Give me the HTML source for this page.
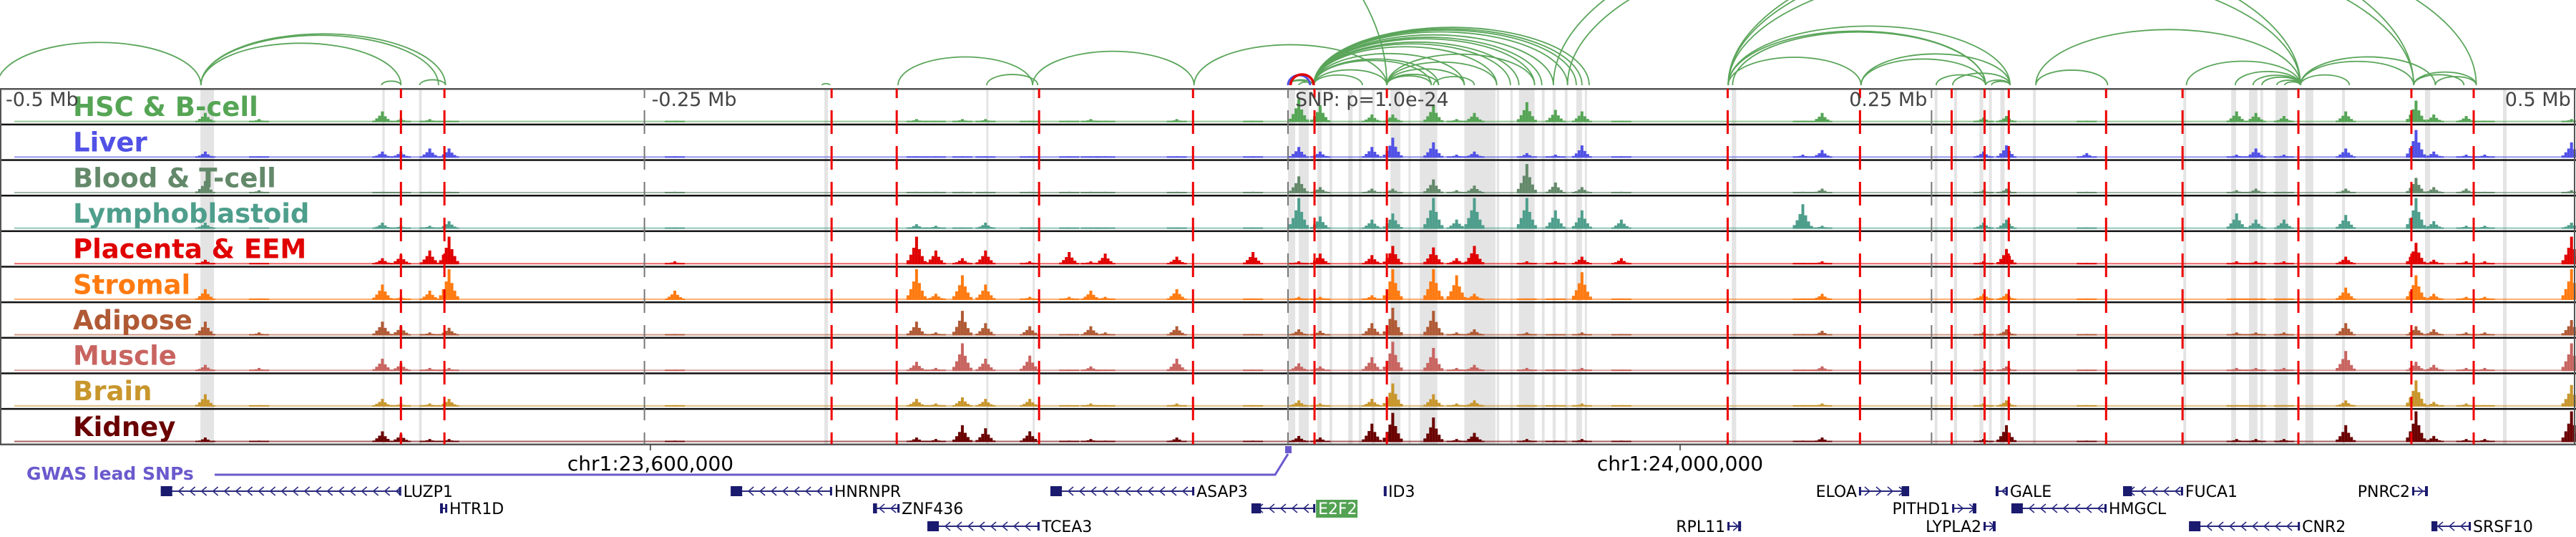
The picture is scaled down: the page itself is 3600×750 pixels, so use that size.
<!DOCTYPE html>
<html><head><meta charset="utf-8"><style>
html,body{margin:0;padding:0;background:#fff;}
svg{display:block;font-family:"DejaVu Sans","Liberation Sans",sans-serif;}
</style></head><body>
<svg id="chart" xmlns="http://www.w3.org/2000/svg" width="3600" height="750" viewBox="0 0 3600 750">
<g id="bands"></g>
<g id="tracks"></g>
<g id="vlines"></g>
<g id="arcs"></g>
<g id="labels"></g>
<g id="genes"></g>
</svg>
<script>
// ---------- data ----------
const trackNames = ["HSC & B-cell","Liver","Blood & T-cell","Lymphoblastoid","Placenta & EEM","Stromal","Adipose","Muscle","Brain","Kidney"];
const trackColors = ["#55a555","#5151e6","#63896a","#4e9e8c","#e00000","#ff7a10","#b05a35","#c86460","#c8962c","#6a0000"];
const peakPos = [-420.6,-399.7,-351.8,-344.6,-333.4,-325.9,-238.2,-144.3,-136.8,-126.5,-117.5,-100.3,-85.0,-76.6,-71.0,-43.2,-13.6,4.2,12.5,32.6,40.7,56.5,65.5,72.4,92.8,103.9,114.2,129.5,200.0,207.5,270.2,279.1,310.3,368.5,376.0,386.9,410.9,438.2,445.1,457.7,464.9,498.6];
const hsc   = [0.3,0.1,0.35,0.12,0.1,0.05,0.05,0.1,0.05,0.1,0.1,0.05,0.05,0.1,0.05,0.1,0.05,0.75,0.55,0.25,0.25,0.55,0.1,0.3,0.65,0.4,0.35,0.05,0.05,0.3,0.15,0.2,0.05,0.35,0.3,0.2,0.35,0.7,0.25,0.2,0.05,0.1];
const liver = [0.2,0.05,0.2,0.2,0.3,0.3,0.05,0.05,0.05,0.05,0.05,0.05,0.05,0.05,0.05,0.05,0.05,0.35,0.2,0.35,0.65,0.5,0.1,0.2,0.15,0.1,0.4,0.05,0.1,0.25,0.2,0.4,0.15,0.1,0.3,0.1,0.3,0.9,0.2,0.1,0.1,0.5];
const blood = [0.4,0.1,0.05,0.05,0.05,0.05,0.05,0.05,0.05,0.05,0.05,0.05,0.05,0.05,0.05,0.05,0.05,0.55,0.2,0.15,0.15,0.45,0.1,0.25,0.95,0.35,0.2,0.05,0.05,0.15,0.1,0.15,0.05,0.1,0.15,0.05,0.15,0.5,0.2,0.15,0.05,0.1];
const lymph = [0.2,0.05,0.2,0.1,0.1,0.25,0.05,0.15,0.1,0.05,0.2,0.05,0.05,0.05,0.05,0.05,0.05,1.0,0.4,0.3,0.5,1.0,0.3,1.0,1.0,0.6,0.6,0.3,0.8,0.1,0.2,0.3,0.05,0.5,0.3,0.3,0.45,1.0,0.25,0.1,0.1,0.2];
const placenta = [0.15,0.05,0.2,0.3,0.45,0.9,0.1,0.9,0.45,0.2,0.45,0.1,0.4,0.1,0.35,0.25,0.4,0.1,0.35,0.3,0.6,0.55,0.2,0.6,0.1,0.1,0.25,0.2,0.05,0.1,0.1,0.5,0.05,0.1,0.1,0.1,0.25,0.7,0.15,0.1,0.1,0.9];
const stromal = [0.35,0.05,0.5,0.1,0.3,1.0,0.3,1.0,0.2,0.8,0.5,0.1,0.1,0.3,0.1,0.35,0.05,0.1,0.1,0.15,1.0,1.0,0.8,0.2,0.05,0.05,0.9,0.05,0.05,0.2,0.2,0.2,0.05,0.05,0.05,0.05,0.4,0.8,0.2,0.1,0.1,1.0];
const adipose = [0.45,0.1,0.45,0.3,0.1,0.25,0.05,0.45,0.1,0.8,0.4,0.3,0.05,0.3,0.1,0.3,0.05,0.2,0.15,0.4,0.9,0.8,0.1,0.2,0.1,0.05,0.1,0.05,0.05,0.15,0.1,0.2,0.05,0.1,0.1,0.1,0.4,0.3,0.2,0.1,0.1,0.5];
const muscle = [0.2,0.1,0.4,0.25,0.1,0.1,0.05,0.3,0.1,0.9,0.4,0.5,0.05,0.15,0.05,0.4,0.05,0.25,0.15,0.45,0.95,0.75,0.1,0.2,0.1,0.05,0.1,0.05,0.05,0.15,0.1,0.15,0.05,0.1,0.1,0.1,0.65,0.3,0.2,0.1,0.1,0.9];
const brain = [0.4,0.05,0.25,0.1,0.1,0.25,0.05,0.25,0.1,0.3,0.25,0.25,0.05,0.1,0.05,0.1,0.05,0.2,0.1,0.25,0.75,0.4,0.1,0.2,0.05,0.05,0.1,0.05,0.05,0.1,0.1,0.2,0.05,0.05,0.05,0.05,0.2,0.85,0.15,0.1,0.05,0.7];
const kidney = [0.15,0.05,0.35,0.25,0.1,0.1,0.05,0.15,0.1,0.55,0.45,0.35,0.05,0.1,0.05,0.15,0.05,0.2,0.15,0.6,0.95,0.8,0.1,0.3,0.1,0.05,0.1,0.05,0.05,0.15,0.1,0.55,0.05,0.1,0.1,0.1,0.55,1.0,0.2,0.1,0.1,1.0];
const trackValues = [hsc,liver,blood,lymph,placenta,stromal,adipose,muscle,brain,kidney];
const redLines = [-344.6,-327.7,-177.3,-152.0,-96.7,-36.9,10.3,38.4,170.8,222.2,257.8,270.6,280.0,317.8,347.5,392.5,436.4,460.6];
const grayTicks = [-250,0,250];
const bandStart = [-422.5,-351.8,-337.6,-180.1,-117.2,-99.2,0,4.2,11.4,16.1,23.4,27.5,32.6,39.8,46.8,51.2,68.5,81.1,86.4,89.7,98.6,102.8,107.5,112.0,115.3,172.4,251.2,258.7,268.6,272.3,276.7,289.4,347.8,366.4,373.3,377.7,383.6,395.2,409.5,441.7,472.0];
const bandEnd   = [-417.2,-350.9,-336.5,-178.7,-116.7,-98.6,2.8,8.1,13.1,17.2,25.1,28.6,33.7,43.7,47.6,58.0,80.6,82.0,87.3,95.8,99.7,104.0,108.6,114.2,116.1,174.1,252.3,259.9,270.1,273.4,278.4,290.5,348.9,368.3,376.6,378.8,388.4,398.3,410.6,443.7,473.4];
const arcStart = [-501.4,-422.3,-422.3,-422.3,-352.1,-337.3,-181.0,-151.5,-117.0,-99.2,-36.5,-650.0,0,0,4.2,10.0,10.0,10.0,10.0,10.0,10.0,10.0,10.0,10.0,10.0,10.0,10.0,10.0,10.0,10.0,38.4,38.4,38.4,38.4,38.4,56.5,103.1,108.6,171.0,171.0,171.0,171.0,171.0,171.0,172.7,222.6,222.6,251.8,258.2,271.0,273.3,290.5,290.5,349.0,368.0,374.9,378.3,384.1,387.2,393.3,393.3,393.3,437.3,437.3,445.7];
const arcEnd   = [-422.3,-344.6,-327.3,-330.0,-344.6,-327.3,-178.0,-99.2,-97.2,-36.5,38.4,38.4,10.0,8.6,10.0,28.9,38.4,55.7,58.5,68.5,81.1,86.4,89.7,95.8,98.6,103.1,108.6,114.2,117.0,112.0,55.7,68.5,81.1,95.8,58.5,72.4,437.3,393.3,222.6,271.0,280.5,393.3,437.3,461.6,271.0,271.0,280.5,271.0,280.5,280.5,280.5,318.4,393.3,393.3,393.3,393.3,393.3,393.3,393.3,412.3,437.3,445.7,461.6,456.8,461.6];
const geneNames  = ["LUZP1","HTR1D","HNRNPR","ZNF436","TCEA3","ASAP3","E2F2","ID3","RPL11","ELOA","PITHD1","LYPLA2","GALE","HMGCL","FUCA1","CNR2","PNRC2","SRSF10"];
const geneStart  = [-437.9,-329.4,-216.5,-161.2,-140.1,-92.3,-14.2,37.2,170.7,221.8,258.0,270.2,274.9,281.0,324.4,350.0,436.7,444.2];
const geneEnd    = [-344.5,-326.6,-177.1,-150.9,-96.5,-36.4,10.6,38.1,176.0,241.3,267.4,274.9,279.6,318.0,347.7,393.1,442.8,459.5];
const geneStrand = ["-","-","-","-","-","-","-","-","+","+","+","+","-","-","-","-","+","-"];
const geneRow    = [0,1,0,1,2,0,1,0,2,0,1,2,0,1,0,2,0,2];
const axisLabels = ["-0.5 Mb","-0.25 Mb","SNP: p=1.0e-24","0.25 Mb","0.5 Mb"];
const axisLabelPos = [-500,-250,0,250,500];

// ---------- scales ----------
const NS="http://www.w3.org/2000/svg";
const X0=1800, PXKB=3.5975;
function xs(kb){return X0+kb*PXKB;}
const TOP=124, TH=49.65, NT=10, BOT=TOP+TH*NT;
function trackTop(i){return TOP+i*TH;}
function mk(tag,attrs,parent){const e=document.createElementNS(NS,tag);for(const k in attrs)e.setAttribute(k,attrs[k]);parent.appendChild(e);return e;}
const gB=document.getElementById('bands'),gT=document.getElementById('tracks'),gV=document.getElementById('vlines'),gA=document.getElementById('arcs'),gL=document.getElementById('labels'),gG=document.getElementById('genes');

bandStart.forEach((s,i)=>{
  const x1=xs(s),x2=xs(bandEnd[i]);
  const r=mk('rect',{x:x1,y:TOP,width:Math.max(3,x2-x1),height:BOT-TOP,fill:'#e4e4e4'},gB);
  
  
});

for(let t=0;t<NT;t++){
  const top=trackTop(t), base=top+TH-3, H=43;
  const g=mk('g',{},gT);
  
  
  mk('rect',{x:20,y:base-2,width:3575,height:2,fill:trackColors[t],opacity:0.6},g);
  const vals=trackValues[t];
  peakPos.forEach((p,i)=>{
    const h=vals[i]*H, cx=xs(p);
    const parts=[[0,1],[-4,0.6],[4,0.55],[-8,0.35],[8,0.3],[-12,0.15],[12,0.12]];
    parts.forEach(([dx,f])=>{
      const bh=Math.max(2,h*f);
      const b=mk('rect',{x:cx+dx-2,y:base-bh,width:4,height:bh,fill:trackColors[t]},g);
      
      
    });
  });
  const lb=mk('text',{x:102,y:top+38,'font-size':37,'font-weight':'bold',fill:trackColors[t]},gL);
  lb.textContent=trackNames[t];
  
  
}
for(let t=0;t<=NT;t++){
  const y=trackTop(t);
  const l=mk('rect',{x:0,y:y-1,width:3600,height:2.5,fill:(t==0||t==NT)?'#555':'#111'},gT);
  
  
}
mk('rect',{x:0,y:TOP,width:2,height:BOT-TOP,fill:'#555'},gT);
mk('rect',{x:3597,y:TOP,width:2,height:BOT-TOP,fill:'#555'},gT);

grayTicks.forEach(k=>{
  const l=mk('line',{x1:xs(k),x2:xs(k),y1:TOP,y2:BOT,stroke:'#777','stroke-width':2,'stroke-dasharray':'33 17','stroke-dashoffset':20},gV);
  
  
});
redLines.forEach(k=>{
  const l=mk('line',{x1:xs(k),x2:xs(k),y1:TOP,y2:BOT,stroke:'#ee0000','stroke-width':3,'stroke-dasharray':'33 17','stroke-dashoffset':20},gV);
  
  
});
axisLabels.forEach((s,i)=>{
  const k=axisLabelPos[i];
  let x=xs(k)+10, anchor='start';
  if(k>0){x=xs(k)-6;anchor='end';}
  if(k==-500)x=8;
  const tx=mk('text',{x:x,y:148,'font-size':27,fill:'#444','text-anchor':anchor},gL);
  tx.textContent=s;
  
  
});

const ABASE=119;
arcStart.forEach((s,i)=>{
  const x1=xs(s),x2=xs(arcEnd[i]);
  const rx=Math.abs(x2-x1)/2, ry=rx*0.42;
  const p=mk('path',{d:`M${x1},${ABASE} A${rx},${ry} 0 0 1 ${x2},${ABASE}`,fill:'none',stroke:'#5aa55a','stroke-width':1.8},gA);
  
  
});
mk('path',{d:`M${xs(0)},${ABASE} A${(xs(8.6)-xs(0))/2},14 0 0 1 ${xs(8.6)},${ABASE}`,fill:'none',stroke:'#5151e6','stroke-width':3},gA);
mk('path',{d:`M${xs(1)},${ABASE} A${(xs(10)-xs(1))/2},15 0 0 1 ${xs(10)},${ABASE}`,fill:'none',stroke:'#e00000','stroke-width':3.5},gA);

const gw=mk('g',{},gG);


const gwt=mk('text',{x:37,y:670,'font-size':25,'font-weight':'bold',fill:'#6a5acd'},gw);
gwt.textContent='GWAS lead SNPs';
mk('polyline',{points:`300,663 ${xs(-5)},663 ${xs(0)},634`,fill:'none',stroke:'#6a5acd','stroke-width':3},gw);
const snpm=mk('rect',{x:xs(0)-4,y:623,width:9,height:10,fill:'#6a5acd'},gw);



[[909,'chr1:23,600,000'],[2348,'chr1:24,000,000']].forEach(([x,s])=>{
  mk('line',{x1:x,x2:x,y1:621,y2:629,stroke:'#333','stroke-width':1.5},gG);
  const t=mk('text',{x:x,y:657,'font-size':28,'text-anchor':'middle',fill:'#000'},gG);
  t.textContent=s;
  
  
});

const rowY=[686,710,735];
geneNames.forEach((n,i)=>{
  const g=mk('g',{},gG);
  
  
  const x1=xs(geneStart[i]),x2=xs(geneEnd[i]),y=rowY[geneRow[i]];
  mk('line',{x1:x1,x2:x2,y1:y,y2:y,stroke:'#2a2a80','stroke-width':2},g);
  const plus=geneStrand[i]=='+';
  for(let cx=x1+12;cx<x2-4;cx+=16){
    const d=plus?`M${cx-4},${y-6} L${cx+3},${y} L${cx-4},${y+6}`:`M${cx+4},${y-6} L${cx-3},${y} L${cx+4},${y+6}`;
    mk('path',{d:d,fill:'none',stroke:'#2a2a80','stroke-width':1.6},g);
  }
  const bw=Math.min(16,Math.max(4,(x2-x1)*0.15));
  const bx=plus?x2-bw:x1;
  mk('rect',{x:bx,y:y-7,width:bw,height:14,fill:'#1a1a6e'},g);
  mk('rect',{x:plus?x1:x2-3,y:y-6,width:3,height:12,fill:'#1a1a6e'},g);
  if(n==='E2F2'){
    mk('rect',{x:x2+1,y:y-12,width:58,height:25,fill:'#53a253'},g);
    const t=mk('text',{x:x2+4,y:y+8,'font-size':22,fill:'#fff'},g);t.textContent=n;
  } else {
    const t=mk('text',{x:plus?x1-3:x2+3,y:y+8,'font-size':22,fill:'#000','text-anchor':plus?'end':'start'},g);
    t.textContent=n;
  }
});
</script>
</body></html>
